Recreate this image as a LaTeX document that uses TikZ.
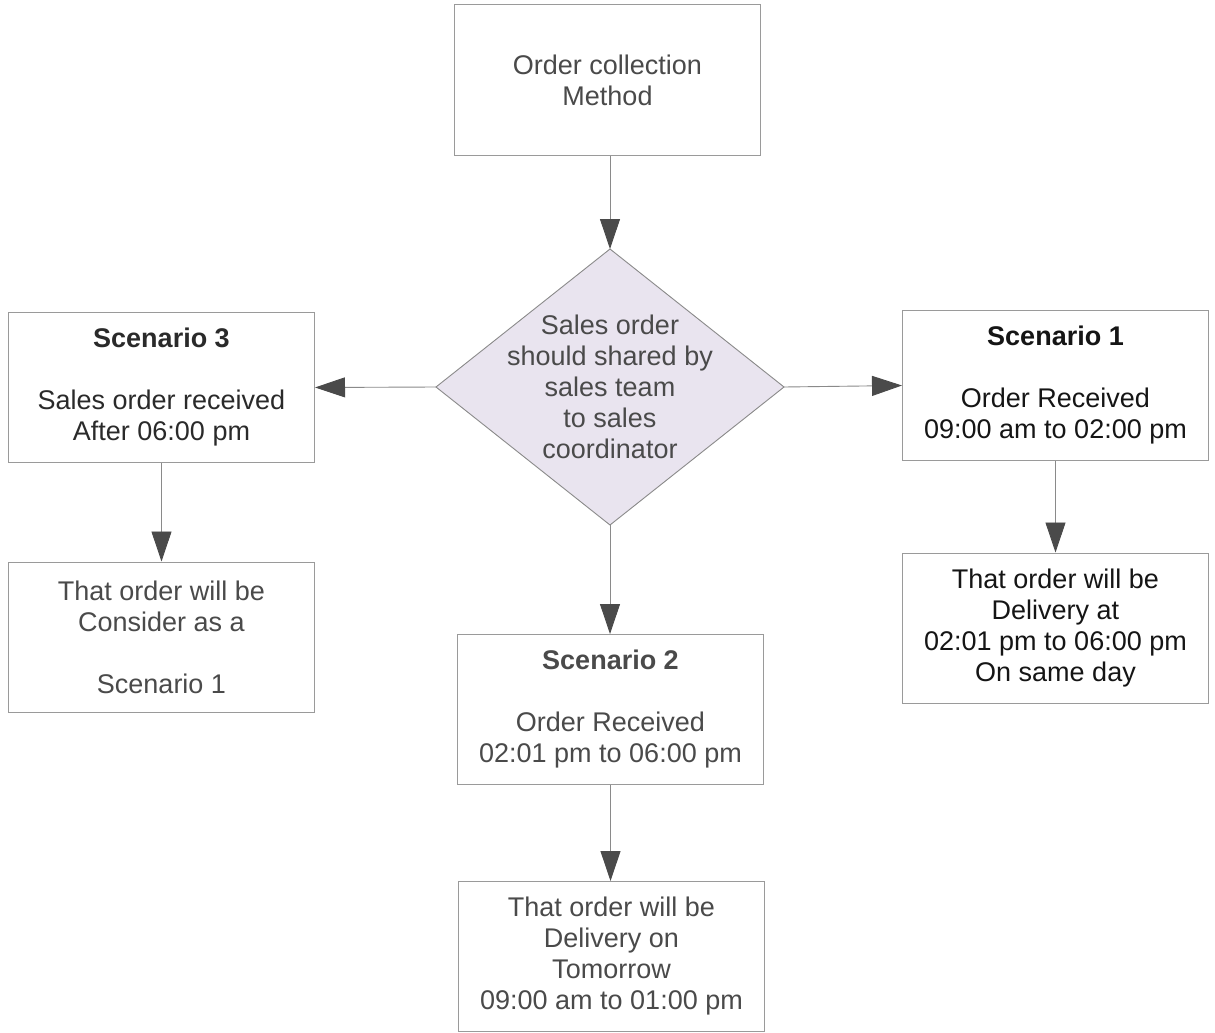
\documentclass[tikz,border=0pt]{standalone}
\usepackage{fontspec}
\setmainfont{Liberation Sans}
\usetikzlibrary{arrows.meta}
\definecolor{boxline}{HTML}{9A9A9A}
\definecolor{linkline}{HTML}{8A8A8A}
\definecolor{tipgray}{HTML}{4A4A4A}
\definecolor{dfill}{HTML}{E9E4EF}
\definecolor{txtgray}{HTML}{4A4A4A}
\definecolor{txtdark}{HTML}{2A2A2A}
\definecolor{txtblack}{HTML}{151515}
\tikzset{
  flowbox/.style={draw=boxline, line width=1pt, rectangle, inner sep=0pt,
    minimum width=306pt, minimum height=150pt, align=center,
    font=\fontsize{27}{31}\selectfont, text=txtgray},
  link/.style={draw=linkline, line width=0.9pt,
    -{Triangle[width=20pt,length=30pt,color=tipgray]}},
}
\begin{document}
\begin{tikzpicture}[x=1pt,y=-1pt]
\useasboundingbox (0,0) rectangle (1215,1033);
\fill[white] (0,0) rectangle (1215,1033);

\node[flowbox] (top) at (607.5,80) {Order collection\\Method};

\coordinate (dtop) at (610,249);
\coordinate (dbot) at (610,525);
\coordinate (dleft) at (436,387);
\coordinate (dright) at (784,387);
\filldraw[fill=dfill, draw=linkline, line width=0.9pt] (dtop) -- (dright) -- (dbot) -- (dleft) -- cycle;
\node[align=center, font=\fontsize{27}{31}\selectfont, text=txtgray] (dtext) at (610,387)
  {Sales order\\should shared by\\sales team\\to sales\\coordinator};

\node[flowbox, text=txtdark] (s3) at (161.5,387.5) {\textbf{Scenario 3}\\[31pt]Sales order received\\After 06:00 pm};
\node[flowbox, text=txtblack] (s1) at (1055.5,385.5) {\textbf{Scenario 1}\\[31pt]Order Received\\09:00 am to 02:00 pm};
\node[flowbox] (s3b) at (161.5,637) {That order will be\\Consider as a\\[31pt]Scenario 1};
\node[flowbox, text=txtblack] (s1b) at (1055.5,628) {That order will be\\Delivery at\\02:01 pm to 06:00 pm\\On same day};
\node[flowbox, text=txtgray] (s2) at (610.5,709.5) {\textbf{Scenario 2}\\[31pt]Order Received\\02:01 pm to 06:00 pm};
\node[flowbox] (s2b) at (611.5,956.5) {That order will be\\Delivery on\\Tomorrow\\09:00 am to 01:00 pm};

\draw[link] (top.south -| dtop) -- (dtop);
\draw[link] (dleft) -- (s3.east);
\draw[link] (dright) -- (s1.west);
\draw[link] (dbot) -- (dbot |- s2.north);
\draw[link] (s3.south) -- (s3b.north);
\draw[link] (s1.south) -- (s1b.north);
\draw[link] (s2.south) -- (s2.south |- s2b.north);
\end{tikzpicture}
\end{document}
